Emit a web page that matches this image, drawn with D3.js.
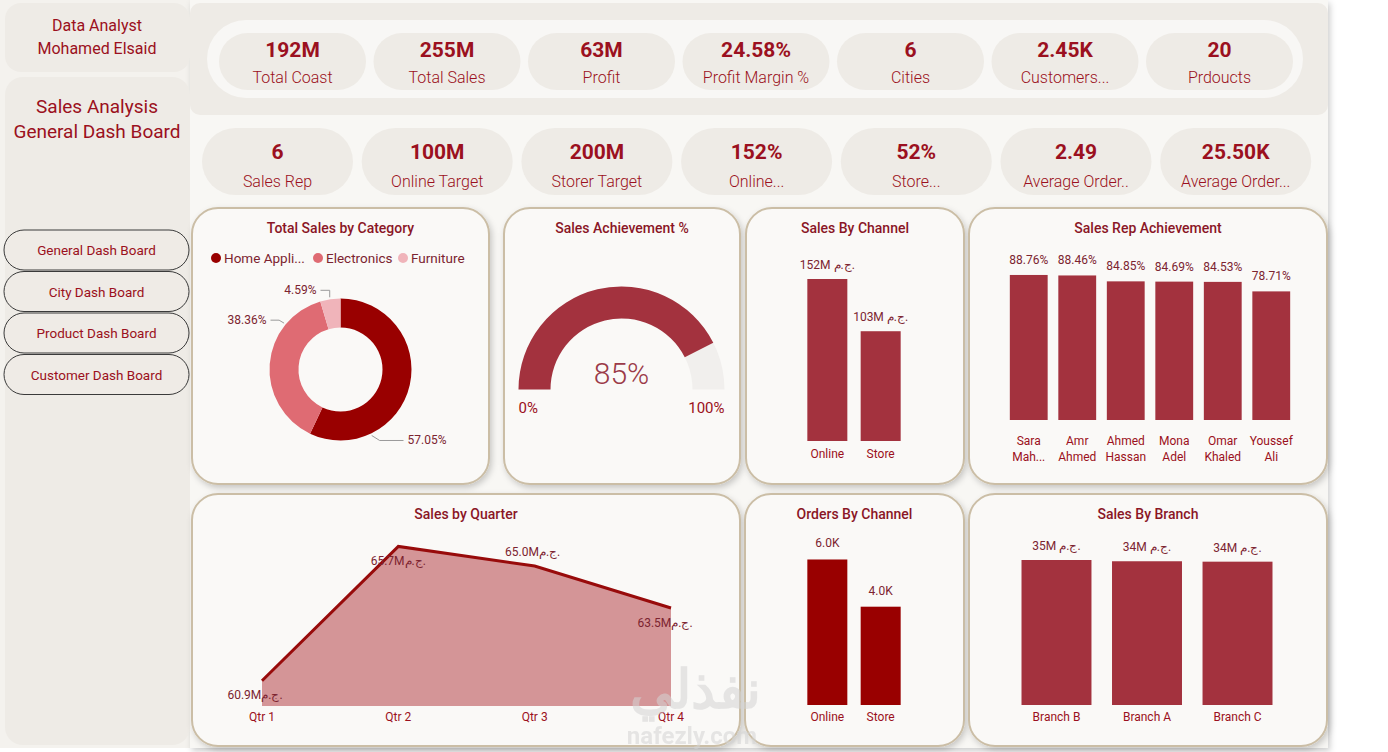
<!DOCTYPE html>
<html>
<head>
<meta charset="utf-8">
<script src="https://cdn.jsdelivr.net/npm/d3@7"></script>
<style>
  body { margin: 0; background: #ffffff; overflow: hidden; }
  svg text { font-family: Roboto, "Noto Sans", sans-serif; }
</style>
</head>
<body>
<svg id="dash" width="1388" height="752"></svg>
<script>

// ---- data ----
var kpiTopValues = ["192M", "255M", "63M", "24.58%", "6", "2.45K", "20"]
var kpiTopLabels = ["Total Coast", "Total Sales", "Profit", "Profit Margin %", "Cities", "Customers...", "Prdoucts"]
var kpiBottomValues = ["6", "100M", "200M", "152%", "52%", "2.49", "25.50K"]
var kpiBottomLabels = ["Sales Rep", "Online Target", "Storer Target", "Online...", "Store...", "Average Order..", "Average Order..."]
var navButtons = ["General Dash Board", "City Dash Board", "Product Dash Board", "Customer Dash Board"]

var categoryNames = ["Home Appli...", "Electronics", "Furniture"]
var categoryShare = [57.05, 38.36, 4.59]

var achievement = 85

var channels = ["Online", "Store"]
var channelSales = [152, 103]
var channelOrders = [5.98, 4.04]

var reps = [["Sara", "Mah..."], ["Amr", "Ahmed"], ["Ahmed", "Hassan"], ["Mona", "Adel"], ["Omar", "Khaled"], ["Youssef", "Ali"]]
var repAchievement = [88.76, 88.46, 84.85, 84.69, 84.53, 78.71]

var quarters = ["Qtr 1", "Qtr 2", "Qtr 3", "Qtr 4"]
var quarterSales = [60.9, 65.7, 65.0, 63.5]

var branches = ["Branch B", "Branch A", "Branch C"]
var branchSales = [34.7, 34.4, 34.3]

var currency = "ج.م."

// ---- colours ----
var textRed = "#9b1020"
var labelRed = "#7c2430"
var barRed = "#a3323e"
var darkRed = "#990000"
var cardBorder = "#cbbea6"

var svg = d3.select("#dash")

var defs = svg.append("defs")
var shadow = defs.append("filter").attr("id", "shadow").attr("x", "-10%").attr("y", "-10%").attr("width", "125%").attr("height", "125%")
shadow.append("feDropShadow").attr("dx", 2).attr("dy", 3).attr("stdDeviation", 3)
  .attr("flood-color", "#000").attr("flood-opacity", 0.2)

// ---- backgrounds ----
svg.append("rect").attr("x", 0).attr("y", 0).attr("width", 1388).attr("height", 752).attr("fill", "#ffffff")
svg.append("rect").attr("x", 0).attr("y", 0).attr("width", 192).attr("height", 748).attr("fill", "#f4f2ee")
svg.append("rect").attr("x", 190).attr("y", 0).attr("width", 1138).attr("height", 748)
  .attr("fill", "#f8f7f4").style("filter", "url(#shadow)")
svg.append("rect").attr("x", 190).attr("y", 0).attr("width", 1138).attr("height", 6).attr("fill", "#f8f7f4")

// left column cards
svg.append("rect").attr("x", 5).attr("y", 3).attr("width", 185).attr("height", 69).attr("rx", 16)
  .attr("fill", "#eeebe6")
svg.append("rect").attr("x", 5).attr("y", 77).attr("width", 185).attr("height", 668).attr("rx", 18)
  .attr("fill", "#eeebe6")

var leftText = svg.append("g").attr("fill", textRed).attr("text-anchor", "middle")
leftText.append("text").attr("x", 97).attr("y", 31).attr("font-size", 16).text("Data Analyst")
leftText.append("text").attr("x", 97).attr("y", 54).attr("font-size", 16).text("Mohamed Elsaid")
leftText.append("text").attr("x", 97).attr("y", 113).attr("font-size", 19).text("Sales Analysis")
leftText.append("text").attr("x", 97).attr("y", 138).attr("font-size", 19).text("General Dash Board")

var nav = svg.append("g").selectAll("g").data(navButtons).join("g")
  .attr("transform", (d, i) => "translate(4," + (230 + i * 41.5) + ")")
nav.append("rect").attr("width", 185).attr("height", 40).attr("rx", 20)
  .attr("fill", "#efebe6").attr("stroke", "#3a3a3a").attr("stroke-width", 1)
nav.append("text").attr("x", 92.5).attr("y", 25).attr("text-anchor", "middle")
  .attr("font-size", 13.5).attr("fill", textRed).text(d => d)

// ---- KPI rows ----
svg.append("rect").attr("x", 190).attr("y", 3).attr("width", 1138).attr("height", 112).attr("rx", 10)
  .attr("fill", "#eeebe6")
svg.append("rect").attr("x", 207).attr("y", 20).attr("width", 1096).attr("height", 78).attr("rx", 39)
  .attr("fill", "#f8f7f5")

function kpiRow(values, labels, x0, step, w, y, h, valueY, labelY) {
  var g = svg.append("g").selectAll("g").data(values).join("g")
    .attr("transform", (d, i) => "translate(" + (x0 + i * step) + "," + y + ")")
  g.append("rect").attr("width", w).attr("height", h).attr("rx", h / 2).attr("fill", "#eeebe6")
  g.append("text").attr("x", w / 2).attr("y", valueY).attr("text-anchor", "middle")
    .attr("font-size", 21).attr("font-weight", 700).attr("fill", textRed).text(d => d)
  g.append("text").attr("x", w / 2).attr("y", labelY).attr("text-anchor", "middle")
    .attr("font-size", 16).attr("font-weight", 300).attr("fill", textRed).text((d, i) => labels[i])
}
kpiRow(kpiTopValues, kpiTopLabels, 219, 154.5, 147, 33, 57, 24, 50)
kpiRow(kpiBottomValues, kpiBottomLabels, 202, 159.7, 151, 128, 67, 31, 59)

// ---- cards ----
function card(x, y, w, h, title, titleY) {
  svg.append("rect").attr("x", x).attr("y", y).attr("width", w).attr("height", h).attr("rx", 26)
    .attr("fill", "#faf9f7").attr("stroke", cardBorder).attr("stroke-width", 2)
    .style("filter", "url(#shadow)")
  svg.append("text").attr("x", x + w / 2).attr("y", y + (titleY || 25)).attr("text-anchor", "middle")
    .attr("font-size", 14).attr("font-weight", 500).attr("fill", "#8a1626").text(title)
}
card(192, 208, 297, 276, "Total Sales by Category")
card(504, 208, 236, 276, "Sales Achievement %")
card(746, 208, 218, 276, "Sales By Channel")
card(969, 208, 358, 276, "Sales Rep Achievement")
card(192, 494, 548, 252, "Sales by Quarter")
card(745, 494, 219, 252, "Orders By Channel")
card(969, 494, 358, 252, "Sales By Branch")

// ---- donut: Total Sales by Category ----
var catColor = d3.scaleOrdinal().domain(categoryNames).range([darkRed, "#df6b73", "#f0b4ba"])
var legend = svg.append("g").selectAll("g").data(categoryNames).join("g")
  .attr("transform", (d, i) => "translate(" + [216, 318, 403][i] + ",258)")
legend.append("circle").attr("r", 5).attr("fill", d => catColor(d))
legend.append("text").attr("x", 8).attr("y", 4.5).attr("font-size", 13.5).attr("fill", labelRed).text(d => d)

var pie = d3.pie().sort(null)
var arcs = pie(categoryShare)
var donutArc = d3.arc().innerRadius(42).outerRadius(71)
var donut = svg.append("g").attr("transform", "translate(340.5,369.5)")
donut.selectAll("path").data(arcs).join("path")
  .attr("d", donutArc).attr("fill", (d, i) => catColor(categoryNames[i]))

// leader anchor angle (deg), elbow offset, label end x/y relative to centre, anchor side
var leaderSpots = [
  { angle: 154.7, elbow: [8, 5], lx: 67, ly: 71.5, side: "start" },
  { angle: 309.4, elbow: [-5, -3], lx: -74, ly: -49.5, side: "end" },
  { angle: 351.5, elbow: [0, -7], lx: -24, ly: -77.5, side: "end" }
]
leaderSpots.forEach(function (s, i) {
  var p0 = d3.pointRadial(s.angle * Math.PI / 180, 73)
  var p1 = [p0[0] + s.elbow[0], p0[1] + s.elbow[1]]
  var p2 = [s.lx + (s.side == "start" ? -4 : 4), p1[1]]
  donut.append("polyline").attr("points", [p0, p1, p2].join(" "))
    .attr("fill", "none").attr("stroke", "#9a9a9a").attr("stroke-width", 1)
  donut.append("text").attr("x", s.lx).attr("y", p1[1] + 4)
    .attr("text-anchor", s.side).attr("font-size", 12).attr("fill", labelRed)
    .text(categoryShare[i].toFixed(2) + "%")
})

// ---- gauge: Sales Achievement % ----
var gaugeScale = d3.scaleLinear().domain([0, 100]).range([-Math.PI / 2, Math.PI / 2])
var gaugeArc = d3.arc().innerRadius(71).outerRadius(103)
var gauge = svg.append("g").attr("transform", "translate(621.5,389.5)")
gauge.append("path").attr("d", gaugeArc({ startAngle: gaugeScale(0), endAngle: gaugeScale(100) })).attr("fill", "#f1efed")
gauge.append("path").attr("d", gaugeArc({ startAngle: gaugeScale(0), endAngle: gaugeScale(achievement) })).attr("fill", barRed)
gauge.append("text").attr("x", 0).attr("y", -6).attr("text-anchor", "middle").attr("font-size", 30)
  .attr("font-weight", 300).attr("fill", "#9b3a48").text(achievement + "%")
gauge.append("text").attr("x", -103).attr("y", 23).attr("font-size", 15).attr("fill", textRed).text("0%")
gauge.append("text").attr("x", 103).attr("y", 23).attr("text-anchor", "end").attr("font-size", 15).attr("fill", textRed).text("100%")

// ---- simple column charts ----
function columns(cats, values, opts) {
  var x = d3.scaleBand().domain(cats.map((d, i) => i)).range(opts.xRange)
    .paddingInner(opts.pi).paddingOuter(opts.po)
  var y = d3.scaleLinear().domain(opts.yDomain).range(opts.yRange)
  var g = svg.append("g")
  g.selectAll("rect").data(values).join("rect")
    .attr("x", (d, i) => x(i)).attr("width", x.bandwidth())
    .attr("y", d => y(d)).attr("height", d => y(0) - y(d))
    .attr("fill", opts.color)
  g.selectAll(".val").data(values).join("text").attr("class", "val")
    .attr("x", (d, i) => x(i) + x.bandwidth() / 2).attr("y", d => y(d) - opts.valGap)
    .attr("text-anchor", "middle").attr("font-size", 12).attr("fill", labelRed)
    .text(opts.fmt)
  var lab = g.selectAll(".cat").data(cats).join("text").attr("class", "cat")
    .attr("x", (d, i) => x(i) + x.bandwidth() / 2).attr("y", opts.catY)
    .attr("text-anchor", "middle").attr("font-size", 12).attr("fill", textRed)
  lab.each(function (d) {
    var lines = Array.isArray(d) ? d : [d]
    d3.select(this).selectAll("tspan").data(lines).join("tspan")
      .attr("x", d3.select(this).attr("x")).attr("dy", (l, j) => j ? 16 : 0).text(l => l)
  })
}

columns(channels, channelSales, {
  xRange: [802, 906], pi: 0.25, po: 0.1, yDomain: [0, d3.max(channelSales)], yRange: [441, 279],
  color: barRed, valGap: 10, catY: 458, fmt: d => d + "M " + currency
})

columns(reps, repAchievement, {
  xRange: [1004, 1296], pi: 0.22, po: 0.12, yDomain: [0, 100], yRange: [420, 256.6],
  color: barRed, valGap: 11, catY: 445, fmt: d => d.toFixed(2) + "%"
})

columns(channels, channelOrders, {
  xRange: [802, 906], pi: 0.25, po: 0.1, yDomain: [0, 6], yRange: [705, 559],
  color: darkRed, valGap: 12, catY: 721, fmt: d => d.toFixed(1) + "K"
})

columns(branches, branchSales, {
  xRange: [1012, 1282], pi: 0.227, po: 0.105, yDomain: [0, d3.max(branchSales)], yRange: [705, 560],
  color: barRed, valGap: 10, catY: 721, fmt: d => Math.round(d) + "M " + currency
})

// ---- area: Sales by Quarter ----
var qx = d3.scalePoint().domain(quarters).range([262, 671])
var qy = d3.scaleLinear().domain([60, 66]).range([706, 538])
var area = d3.area().x((d, i) => qx(quarters[i])).y0(qy(60)).y1(d => qy(d))
var line = d3.line().x((d, i) => qx(quarters[i])).y(d => qy(d))
svg.append("path").attr("d", area(quarterSales)).attr("fill", "#d49597")
svg.append("path").attr("d", line(quarterSales)).attr("fill", "none").attr("stroke", "#980b0b").attr("stroke-width", 3)
var qLabelOffset = [[-7, 18], [0, 19], [-2, -10], [-6, 19]]
svg.append("g").selectAll("text").data(quarterSales).join("text")
  .attr("x", (d, i) => qx(quarters[i]) + qLabelOffset[i][0]).attr("y", (d, i) => qy(d) + qLabelOffset[i][1])
  .attr("text-anchor", "middle").attr("font-size", 12).attr("fill", labelRed)
  .text(d => d.toFixed(1) + "M" + currency)
svg.append("g").selectAll("text").data(quarters).join("text")
  .attr("x", d => qx(d)).attr("y", 721).attr("text-anchor", "middle")
  .attr("font-size", 12).attr("fill", textRed).text(d => d)

// watermark
svg.append("text").attr("x", 695).attr("y", 708).attr("text-anchor", "middle").attr("font-size", 54)
  .attr("font-weight", 700).attr("fill", "#d4d4d4").attr("opacity", 0.55).text("نفذلي")
svg.append("text").attr("x", 692).attr("y", 744).attr("text-anchor", "middle").attr("font-size", 24)
  .attr("font-weight", 700).attr("fill", "#d4d4d4").attr("opacity", 0.55).text("nafezly.com")

</script>
</body>
</html>
